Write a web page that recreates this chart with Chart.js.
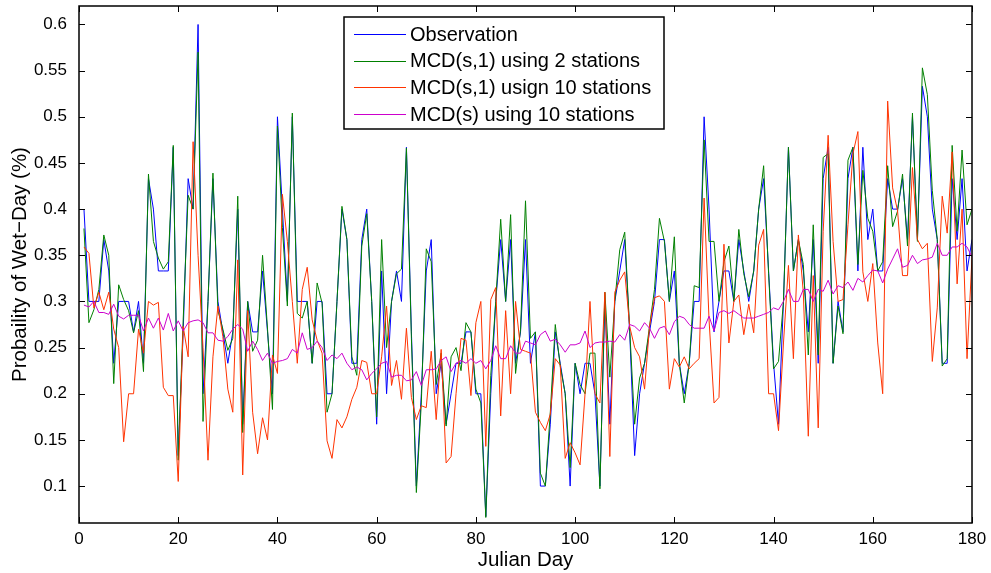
<!DOCTYPE html>
<html>
<head>
<meta charset="utf-8">
<script src="https://cdn.jsdelivr.net/npm/chart.js@4.4.0/dist/chart.umd.min.js"></script>
<style>
  body { margin: 0; background: #fff; }
  #wrap { width: 991px; height: 573px; position: relative; }
</style>
</head>
<body>
<div id="wrap"><canvas id="wetChart" width="991" height="573"></canvas></div>
<script>
// Julian days 1..180 (x positions of every series)
const days = Array.from({ length: 180 }, (_, i) => i + 1);

const xTicks = [0, 20, 40, 60, 80, 100, 120, 140, 160, 180];
const yTicks = [0.1, 0.15, 0.2, 0.25, 0.3, 0.35, 0.4, 0.45, 0.5, 0.55, 0.6];

const seriesNames = [
  'Observation',
  'MCD(s,1) using 2 stations',
  'MCD(s,1) usign 10 stations',
  'MCD(s) using 10 stations'
];

const observation = [
  0.4, 0.3, 0.3, 0.3, 0.367, 0.333, 0.233, 0.3, 0.3, 0.3,
  0.267, 0.3, 0.233, 0.433, 0.4, 0.333, 0.333, 0.333, 0.467, 0.133,
  0.267, 0.433, 0.4, 0.6, 0.2, 0.3, 0.433, 0.3, 0.267, 0.233,
  0.267, 0.4, 0.167, 0.3, 0.267, 0.267, 0.333, 0.267, 0.2, 0.5,
  0.4, 0.3, 0.5, 0.3, 0.3, 0.3, 0.233, 0.3, 0.3, 0.2,
  0.2, 0.3, 0.4, 0.367, 0.233, 0.233, 0.367, 0.4, 0.3, 0.167,
  0.333, 0.2, 0.3, 0.333, 0.3, 0.467, 0.267, 0.1, 0.2, 0.333,
  0.367, 0.2, 0.233, 0.167, 0.2, 0.233, 0.233, 0.267, 0.267, 0.2,
  0.2, 0.067, 0.2, 0.3, 0.367, 0.3, 0.367, 0.233, 0.267, 0.367,
  0.233, 0.267, 0.1, 0.1, 0.167, 0.267, 0.233, 0.2, 0.1, 0.233,
  0.2, 0.233, 0.233, 0.2, 0.1, 0.3, 0.167, 0.3, 0.333, 0.367,
  0.267, 0.133, 0.2, 0.233, 0.267, 0.3, 0.367, 0.367, 0.3, 0.333,
  0.233, 0.2, 0.233, 0.3, 0.3, 0.5, 0.4, 0.267, 0.3, 0.333,
  0.333, 0.3, 0.367, 0.333, 0.3, 0.333, 0.4, 0.433, 0.333, 0.233,
  0.167, 0.3, 0.467, 0.333, 0.367, 0.333, 0.267, 0.367, 0.233, 0.433,
  0.467, 0.233, 0.3, 0.267, 0.433, 0.467, 0.333, 0.467, 0.367, 0.4,
  0.333, 0.333, 0.433, 0.4, 0.4, 0.433, 0.367, 0.5, 0.367, 0.533,
  0.5, 0.4, 0.367, 0.233, 0.233, 0.433, 0.367, 0.433, 0.333, 0.367
];

const mcd2 = [
  0.379, 0.277, 0.291, 0.313, 0.372, 0.35, 0.211, 0.318, 0.302, 0.29,
  0.266, 0.29, 0.224, 0.438, 0.365, 0.347, 0.335, 0.343, 0.469, 0.128,
  0.28, 0.415, 0.4, 0.57, 0.17, 0.3, 0.439, 0.29, 0.27, 0.247,
  0.26, 0.414, 0.158, 0.3, 0.246, 0.258, 0.35, 0.27, 0.183, 0.49,
  0.38, 0.295, 0.504, 0.287, 0.282, 0.3, 0.233, 0.32, 0.298, 0.18,
  0.2, 0.3, 0.403, 0.367, 0.24, 0.22, 0.36, 0.395, 0.3, 0.175,
  0.367, 0.25, 0.3, 0.33, 0.335, 0.466, 0.26, 0.093, 0.19, 0.357,
  0.343, 0.21, 0.244, 0.165, 0.24, 0.25, 0.225, 0.277, 0.267, 0.205,
  0.19, 0.066, 0.22, 0.3, 0.389, 0.3, 0.394, 0.222, 0.27, 0.409,
  0.26, 0.267, 0.114, 0.1, 0.18, 0.275, 0.23, 0.2, 0.12, 0.233,
  0.21, 0.2, 0.244, 0.244, 0.097, 0.31, 0.218, 0.3, 0.356, 0.375,
  0.27, 0.167, 0.217, 0.233, 0.273, 0.313, 0.39, 0.365, 0.3, 0.37,
  0.233, 0.19, 0.233, 0.317, 0.315, 0.475, 0.365, 0.365, 0.3, 0.343,
  0.36, 0.3, 0.378, 0.33, 0.305, 0.333, 0.4, 0.447, 0.33, 0.227,
  0.235, 0.3, 0.467, 0.333, 0.367, 0.34, 0.242, 0.383, 0.242, 0.456,
  0.46, 0.233, 0.295, 0.265, 0.453, 0.467, 0.34, 0.442, 0.39, 0.376,
  0.333, 0.343, 0.447, 0.381, 0.398, 0.438, 0.36, 0.504, 0.365, 0.553,
  0.524, 0.42, 0.367, 0.23, 0.238, 0.469, 0.376, 0.464, 0.383, 0.4
];

const mcd10 = [
  0.359, 0.352, 0.293, 0.31, 0.291, 0.31, 0.27, 0.25, 0.148, 0.2,
  0.2, 0.27, 0.244, 0.3, 0.296, 0.299, 0.207, 0.198, 0.198, 0.105,
  0.273, 0.24, 0.473, 0.35, 0.25, 0.128, 0.24, 0.295, 0.262, 0.205,
  0.18, 0.345, 0.112, 0.29, 0.18, 0.135, 0.174, 0.15, 0.242, 0.222,
  0.416, 0.365, 0.3, 0.233, 0.313, 0.337, 0.28, 0.258, 0.244, 0.149,
  0.13, 0.172, 0.163, 0.175, 0.194, 0.207, 0.236, 0.234, 0.2, 0.2,
  0.24, 0.295, 0.209, 0.236, 0.194, 0.271, 0.196, 0.172, 0.187, 0.185,
  0.246, 0.172, 0.248, 0.125, 0.132, 0.2, 0.26, 0.258, 0.198, 0.277,
  0.3, 0.143, 0.302, 0.315, 0.176, 0.29, 0.2, 0.3, 0.248, 0.246,
  0.244, 0.18, 0.169, 0.16, 0.178, 0.238, 0.231, 0.13, 0.147, 0.136,
  0.123, 0.2, 0.3, 0.2, 0.19, 0.31, 0.132, 0.31, 0.323, 0.332,
  0.273, 0.25, 0.24, 0.205, 0.273, 0.304, 0.306, 0.3, 0.205, 0.238,
  0.229, 0.24, 0.227, 0.233, 0.238, 0.412, 0.28, 0.19, 0.196, 0.362,
  0.255, 0.3, 0.307, 0.264, 0.297, 0.266, 0.361, 0.378, 0.2, 0.2,
  0.16, 0.255, 0.339, 0.238, 0.372, 0.31, 0.154, 0.328, 0.163, 0.376,
  0.48, 0.365, 0.3, 0.302, 0.383, 0.46, 0.484, 0.332, 0.3, 0.341,
  0.255, 0.2, 0.517, 0.423, 0.398, 0.328, 0.328, 0.445, 0.367, 0.357,
  0.363, 0.235, 0.293, 0.414, 0.374, 0.462, 0.319, 0.4, 0.238, 0.348
];

const mcdS10 = [
  0.296, 0.294, 0.3, 0.288, 0.288, 0.286, 0.297, 0.284, 0.281, 0.285,
  0.285, 0.285, 0.268, 0.282, 0.271, 0.282, 0.269, 0.287, 0.268, 0.279,
  0.268, 0.277, 0.279, 0.28, 0.277, 0.266, 0.266, 0.258, 0.257, 0.262,
  0.27, 0.275, 0.27, 0.246, 0.257, 0.248, 0.236, 0.244, 0.233, 0.235,
  0.236, 0.238, 0.248, 0.244, 0.266, 0.248, 0.25, 0.257, 0.25, 0.236,
  0.242, 0.238, 0.244, 0.233, 0.226, 0.229, 0.226, 0.215, 0.222, 0.227,
  0.233, 0.235, 0.218, 0.22, 0.22, 0.214, 0.215, 0.224, 0.209, 0.226,
  0.226, 0.227, 0.236, 0.24, 0.224, 0.233, 0.236, 0.233, 0.238, 0.233,
  0.236, 0.227, 0.236, 0.252, 0.238, 0.238, 0.252, 0.244, 0.244, 0.257,
  0.255, 0.253, 0.264, 0.268, 0.257, 0.259, 0.253, 0.245, 0.253, 0.253,
  0.255, 0.268, 0.25, 0.255, 0.256, 0.256, 0.257, 0.256, 0.264, 0.258,
  0.275, 0.273, 0.268, 0.277, 0.271, 0.26, 0.271, 0.273, 0.264, 0.278,
  0.284, 0.282, 0.275, 0.271, 0.271, 0.271, 0.284, 0.268, 0.288, 0.29,
  0.287, 0.29, 0.286, 0.282, 0.282, 0.282, 0.284, 0.286, 0.288, 0.293,
  0.291, 0.3, 0.313, 0.3, 0.3, 0.313, 0.313, 0.3, 0.313, 0.311,
  0.323, 0.308, 0.317, 0.315, 0.321, 0.312, 0.325, 0.321, 0.328, 0.334,
  0.333, 0.32, 0.335, 0.346, 0.357, 0.337, 0.339, 0.35, 0.341, 0.345,
  0.346, 0.348, 0.363, 0.35, 0.35, 0.359, 0.359, 0.363, 0.359, 0.348
];

const colors = ['#0000ff', '#008000', '#ff3300', '#cc00cc'];
const fontFamily = '"Liberation Sans", Arial, sans-serif';

function toPoints(values) {
  return values.map((v, i) => ({ x: days[i], y: v }));
}

// frame, inward tick marks and the legend box, MATLAB style
const matlabFrame = {
  id: 'matlabFrame',
  afterDraw(chart) {
    const { ctx, chartArea: a, scales } = chart;
    const len = 6;
    ctx.save();
    ctx.strokeStyle = '#000';
    ctx.lineWidth = 1;
    ctx.beginPath();
    xTicks.forEach(v => {
      const px = Math.round(scales.x.getPixelForValue(v)) + 0.5;
      ctx.moveTo(px, a.bottom); ctx.lineTo(px, a.bottom - len);
      ctx.moveTo(px, a.top); ctx.lineTo(px, a.top + len);
    });
    yTicks.forEach(v => {
      const py = Math.round(scales.y.getPixelForValue(v)) + 0.5;
      ctx.moveTo(a.left, py); ctx.lineTo(a.left + len, py);
      ctx.moveTo(a.right, py); ctx.lineTo(a.right - len, py);
    });
    ctx.stroke();
    ctx.lineWidth = 1.5;
    ctx.strokeRect(a.left, a.top, a.right - a.left, a.bottom - a.top);

    // legend
    const lx = 344, ly = 17, lw = 320, lh = 112;
    ctx.fillStyle = '#fff';
    ctx.fillRect(lx, ly, lw, lh);
    ctx.lineWidth = 1.5;
    ctx.strokeRect(lx, ly, lw, lh);
    ctx.font = '20px ' + fontFamily;
    ctx.textBaseline = 'middle';
    seriesNames.forEach((name, i) => {
      const y = ly + 17 + i * 26.7;
      ctx.strokeStyle = colors[i];
      ctx.lineWidth = 1;
      ctx.beginPath();
      ctx.moveTo(354, Math.round(y) + 0.5);
      ctx.lineTo(406, Math.round(y) + 0.5);
      ctx.stroke();
      ctx.fillStyle = '#000';
      ctx.fillText(name, 410, y + 1);
    });
    ctx.restore();
  }
};

const datasets = [observation, mcd2, mcd10, mcdS10].map((vals, i) => ({
  label: seriesNames[i],
  data: toPoints(vals),
  borderColor: colors[i],
  backgroundColor: colors[i],
  borderWidth: 1,
  pointRadius: 0,
  tension: 0,
  order: 4 - i
}));

new Chart(document.getElementById('wetChart'), {
  type: 'line',
  data: { datasets },
  options: {
    responsive: false,
    animation: false,
    layout: { padding: { left: 0, right: 19, top: 6, bottom: 0 } },
    plugins: { legend: { display: false }, tooltip: { enabled: false } },
    scales: {
      x: {
        type: 'linear',
        min: 0,
        max: 180,
        afterBuildTicks: s => { s.ticks = xTicks.map(v => ({ value: v })); },
        afterFit: s => { s.height = 50; s.paddingLeft = 0; s.paddingRight = 0; },
        grid: { display: false, drawTicks: false },
        border: { display: false },
        ticks: {
          color: '#000',
          padding: 6,
          maxRotation: 0,
          font: { family: fontFamily, size: 17 }
        },
        title: {
          display: true,
          text: 'Julian Day',
          color: '#000',
          padding: { top: 0, bottom: 0 },
          font: { family: fontFamily, size: 20.5 }
        }
      },
      y: {
        min: 0.06,
        max: 0.62,
        afterBuildTicks: s => { s.ticks = yTicks.map(v => ({ value: v })); },
        afterFit: s => { s.width = 79; s.paddingTop = 0; s.paddingBottom = 0; },
        grid: { display: false, drawTicks: false },
        border: { display: false },
        ticks: {
          color: '#000',
          padding: 12,
          callback: v => String(+v.toFixed(2)),
          font: { family: fontFamily, size: 17 }
        },
        title: {
          display: true,
          text: 'Probaility of Wet\u2212Day (%)',
          color: '#000',
          padding: { top: 8, bottom: 0 },
          font: { family: fontFamily, size: 20.5 }
        }
      }
    }
  },
  plugins: [matlabFrame]
});
</script>
</body>
</html>
